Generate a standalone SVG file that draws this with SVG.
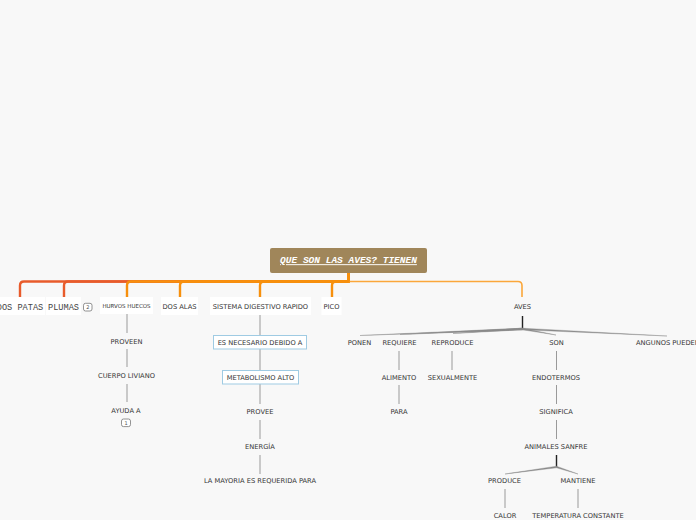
<svg xmlns="http://www.w3.org/2000/svg" width="696" height="520" viewBox="0 0 696 520">
<style>
.t{font-family:"DejaVu Sans","Liberation Sans",sans-serif;font-size:6.7px;fill:#333;text-anchor:middle}
.c{font-family:"Liberation Mono","DejaVu Sans Mono",monospace;font-size:8.6px;fill:#444;text-anchor:middle}
.bg{fill:#ffffff}
.blue{fill:#ffffff;stroke:#9fcbe3;stroke-width:1}
.badge{fill:#ffffff;stroke:#777;stroke-width:0.8}
.bt{font-family:"DejaVu Sans","Liberation Sans",sans-serif;font-size:5px;fill:#555;text-anchor:middle}
.v{stroke:#9a9a9a;stroke-width:1;fill:none}
.k{stroke:#222;stroke-width:1.4;fill:none}
.f{fill:#8a8a8a;stroke:#8a8a8a;stroke-width:0.4;stroke-linejoin:round}
.red{stroke:#e85b2b;stroke-width:2.4;fill:none}
.or{stroke:#f7900d;stroke-width:2.4;fill:none}
.lo{stroke:#fba73a;stroke-width:1.6;fill:none}
</style>
<rect width="696" height="520" fill="#f8f8f8"/>
<g id="connectors">
<path class="red" d="M348.5,273 V281.5 H24 Q20,281.5 20,285.5 V297"/>
<path class="red" d="M348.5,273 V281.5 H68 Q64,281.5 64,285.5 V297"/>
<path class="or" d="M348.5,273 V281.5 H131 Q127,281.5 127,285.5 V297"/>
<path class="or" d="M348.5,273 V281.5 H184 Q180,281.5 180,285.5 V297"/>
<path class="or" d="M348.5,273 V281.5 H264 Q260,281.5 260,285.5 V297"/>
<path class="or" d="M348.5,273 V281.5 H336 Q332,281.5 332,285.5 V297"/>
<path class="lo" d="M348.5,281.5 H518 Q522,281.5 522,285.5 V297"/>
<path class="or" d="M348.5,272 V282" stroke-width="3"/>
<path class="v" d="M127,314 V333 M127,349 V367 M127,384 V402"/>
<path class="v" d="M260,315 V335 M260,349 V370 M260,384 V404 M260,420 V439 M260,455 V474"/>
<path class="k" d="M522.5,316 V329"/>
<path class="f" d="M522.5,328.2 L360,335.5 L522.5,329.8 Z"/>
<path class="f" d="M522.5,328.2 L400,334.5 L522.5,329.8 Z"/>
<path class="f" d="M522.5,328.2 L453,333.5 L522.5,329.8 Z"/>
<path class="f" d="M522.5,328.2 L556,335 L522.5,329.8 Z"/>
<path class="f" d="M522.5,328.2 L667,336 L522.5,329.8 Z"/>
<path class="v" d="M399,351 V370 M399,385 V404"/>
<path class="v" d="M452,351 V370"/>
<path class="v" d="M556.5,351 V370 M556.5,385 V404 M556.5,420 V439"/>
<path class="k" d="M556.5,455 V467"/>
<path class="f" d="M556.5,466.2 L505,474 L556.5,467.8 Z"/>
<path class="f" d="M556.5,466.2 L578,474 L556.5,467.8 Z"/>
<path class="v" d="M505,489 V508 M578,489 V508"/>
</g>
<g id="root">
<rect x="270" y="248" width="157" height="25" rx="2" fill="#a0865a"/>
<text x="348.5" y="263.2" font-family="Liberation Mono,DejaVu Sans Mono,monospace" font-size="9.5" font-style="italic" font-weight="bold" fill="#ffffff" text-anchor="middle" text-decoration="underline">QUE SON LAS AVES? TIENEN</text>
</g>
<g id="dos-patas"><rect class="bg" x="-6" y="297" width="51" height="18"/><text class="c" x="20" y="309.5">DOS PATAS</text></g>
<g id="plumas"><rect class="bg" x="46" y="297" width="35" height="18"/><text class="c" x="63.5" y="309.5">PLUMAS</text><rect class="badge" x="83.5" y="303.3" width="8.5" height="7.7" rx="2"/><text class="bt" x="87.8" y="309">2</text></g>
<g id="huecos"><rect class="bg" x="100" y="297" width="53" height="17"/><text class="t" x="126.5" y="308.3" style="font-size:5.5px">HURVOS HUECOS</text></g>
<g id="dos-alas"><rect class="bg" x="161" y="297" width="37" height="18"/><text class="t" x="179.5" y="308.7">DOS ALAS</text></g>
<g id="sistema"><rect class="bg" x="210" y="297" width="101" height="18"/><text class="t" x="260.5" y="308.7">SISTEMA DIGESTIVO RAPIDO</text></g>
<g id="pico"><rect class="bg" x="321.5" y="297" width="20" height="18"/><text class="t" x="331.5" y="308.7">PICO</text></g>
<g id="aves"><text class="t" x="522.5" y="309.1">AVES</text></g>
<g id="proveen"><text class="t" x="126.5" y="343.6">PROVEEN</text></g>
<g id="cuerpo"><text class="t" x="126.5" y="377.9">CUERPO LIVIANO</text></g>
<g id="ayuda"><text class="t" x="126" y="413.2">AYUDA A</text><rect class="badge" x="121.5" y="419" width="9" height="7.6" rx="2"/><text class="bt" x="126" y="424.7">1</text></g>
<g id="necesario"><rect class="blue" x="213.5" y="335.5" width="93" height="13.5"/><text class="t" x="260" y="345">ES NECESARIO DEBIDO A</text></g>
<g id="metabolismo"><rect class="blue" x="222.5" y="370.5" width="76" height="13.5"/><text class="t" x="260.5" y="379.8">METABOLISMO ALTO</text></g>
<g id="provee"><text class="t" x="260" y="414.2">PROVEE</text></g>
<g id="energia"><text class="t" x="260" y="448.8">ENERGÍA</text></g>
<g id="mayoria"><text class="t" x="260" y="482.8">LA MAYORIA ES REQUERIDA PARA</text></g>
<g id="ponen"><text class="t" x="359.5" y="344.8">PONEN</text></g>
<g id="requiere"><text class="t" x="399.5" y="344.8">REQUIERE</text></g>
<g id="reproduce"><text class="t" x="452.5" y="344.8">REPRODUCE</text></g>
<g id="son"><text class="t" x="556.5" y="344.8">SON</text></g>
<g id="angunos"><text class="t" x="636" y="344.8" style="text-anchor:start">ANGUNOS PUEDEN</text></g>
<g id="alimento"><text class="t" x="399" y="379.8">ALIMENTO</text></g>
<g id="para"><text class="t" x="399" y="413.8">PARA</text></g>
<g id="sexualmente"><text class="t" x="452.5" y="379.8">SEXUALMENTE</text></g>
<g id="endotermos"><text class="t" x="556" y="379.8">ENDOTERMOS</text></g>
<g id="significa"><text class="t" x="556" y="413.8">SIGNIFICA</text></g>
<g id="animales"><text class="t" x="556" y="448.8">ANIMALES SANFRE</text></g>
<g id="produce"><text class="t" x="504.5" y="483.2">PRODUCE</text></g>
<g id="mantiene"><text class="t" x="578" y="483.2">MANTIENE</text></g>
<g id="calor"><text class="t" x="505" y="517.8">CALOR</text></g>
<g id="temperatura"><text class="t" x="578" y="517.8">TEMPERATURA CONSTANTE</text></g>
</svg>
